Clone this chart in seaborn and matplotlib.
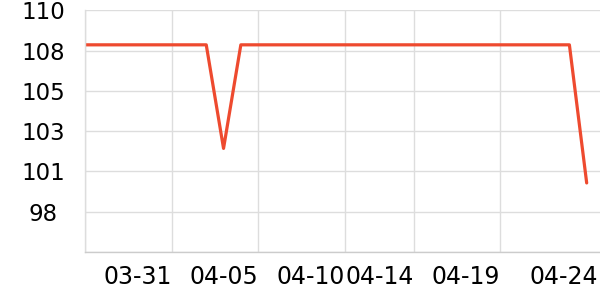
import matplotlib
matplotlib.use("Agg")
import matplotlib.pyplot as plt
import matplotlib.transforms as mtransforms
import seaborn as sns
import pandas as pd

dates = pd.date_range("2024-03-26", periods=30, freq="D")
values = [108, 108, 108, 108, 108, 108, 108, 108, 102, 108,
          108, 108, 108, 108, 108, 108, 108, 108, 108, 108,
          108, 108, 108, 108, 108, 108, 108, 108, 108, 100]
y_ticks = [96, 98.333, 100.667, 103, 105.333, 107.667, 110]
y_labels = ["", "98", "101", "103", "105", "108", "110"]
x_ticks = ["2024-03-26", "2024-03-31", "2024-04-05", "2024-04-10",
           "2024-04-14", "2024-04-19", "2024-04-24"]
x_labels = ["", "03-31", "04-05", "04-10", "04-14", "04-19", "04-24"]

df = pd.DataFrame({"date": dates, "value": values})

sns.set_theme(style="white")
plt.rcParams["font.family"] = ["DejaVu Sans"]

fig = plt.figure(figsize=(6, 3), dpi=100)
ax = fig.add_axes([85.2 / 600, 1 - 252 / 300, 1 - 85.2 / 600, (252 - 10.3) / 300])

sns.lineplot(data=df, x="date", y="value", ax=ax, color="#ee4a2f", linewidth=2.3)

ax.set_ylim(96, 110)
ax.set_xlim(pd.Timestamp("2024-03-26"), pd.Timestamp("2024-03-26") + pd.Timedelta(days=29.77))

ax.set_yticks(y_ticks)
ax.set_yticklabels(y_labels)
xt = pd.to_datetime(x_ticks)
ax.set_xticks(xt)
ax.set_xticklabels(x_labels)

ax.set_xlabel("")
ax.set_ylabel("")

ax.grid(True, color="#dddddd", linewidth=1)
ax.set_axisbelow(True)

for s in ["top", "right"]:
    ax.spines[s].set_visible(False)
ax.spines["left"].set_color("#dddddd")
ax.spines["bottom"].set_color("#cccccc")
ax.spines["left"].set_linewidth(1)
ax.spines["bottom"].set_linewidth(1)

ax.tick_params(axis="y", length=0, pad=30, labelsize=16.5, labelcolor="#000000")
ax.tick_params(axis="x", length=4, width=1, color="#cccccc", pad=5.5, labelsize=17, labelcolor="#000000")
for lab in ax.get_yticklabels():
    lab.set_ha("center")
for lab in ax.get_xticklabels():
    lab.set_ha("right")

# last tick: no gridline / tick mark, label shifted right
xtick_objs = ax.xaxis.get_major_ticks()
last = xtick_objs[-1]
last.tick1line.set_visible(False)
last.gridline.set_visible(False)
offset = mtransforms.ScaledTranslation(11 / 100, 0, fig.dpi_scale_trans)
last.label1.set_transform(last.label1.get_transform() + offset)

fig.savefig("out.png", dpi=100)
